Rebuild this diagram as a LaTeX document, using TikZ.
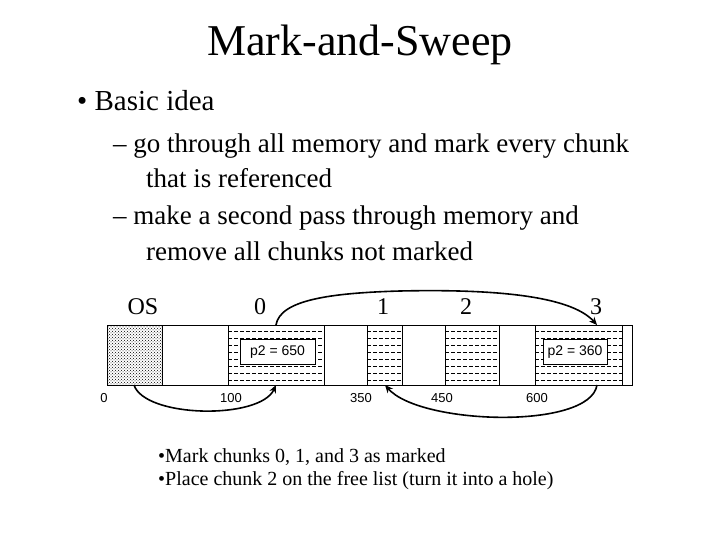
\documentclass[tikz,border=0pt]{standalone}
\usepackage{fontspec}
\setmainfont{Liberation Serif}
\newfontfamily\sansf{Liberation Sans}
\usetikzlibrary{patterns,arrows.meta}
\begin{document}
\begin{tikzpicture}[x=1pt,y=-1pt,
  hd/.style={font=\fontsize{29}{30}\selectfont,anchor=west,inner sep=0},
  sb/.style={font=\fontsize{27}{28}\selectfont,anchor=west,inner sep=0},
  lab/.style={font=\fontsize{24}{26}\selectfont,inner sep=0},
  num/.style={font=\sansf\fontsize{13}{15}\selectfont,inner sep=0},
  pbox/.style={draw,fill=white,font=\sansf\fontsize{14}{16}\selectfont,inner sep=0,minimum height=25pt},
  chunk/.style={draw},
  arr/.style={line width=1.6pt,-{Stealth[length=8pt,width=7pt]}}]
\useasboundingbox (0,0) rectangle (720,540);
\node[font=\fontsize{44}{46}\selectfont] (title) at (360,45) {Mark-and-Sweep};
\node[hd] (b1) at (77,101) {\textbullet\ Basic idea};
\node[sb] (s1) at (113,146) {– go through all memory and mark every chunk};
\node[sb] (s1b) at (146,178) {that is referenced};
\node[sb] (s2) at (113,218) {– make a second pass through memory and};
\node[sb] (s2b) at (146,251) {remove all chunks not marked};
% memory
\draw (107,325) rectangle (632,385);
\node[chunk,pattern=crosshatch dots,minimum width=55pt,minimum height=60pt,inner sep=0] (os) at (134.5,355) {};
\foreach \a/\b/\n in {228/324/c0,367/402/c1,445/499/c2,535/622/c3}{
  \node[chunk,minimum width={\b-\a},minimum height=60pt,inner sep=0] (\n) at ({(\a+\b)/2},355) {};
  \foreach \yy in {331,338,...,382}{
    \draw[dash pattern=on 4pt off 2pt,line width=0.4pt] (\a,\yy) -- (\b,\yy);
  }
}
\node[pbox,minimum width=75pt] (p0) at (277.5,352) {p2 = 650};
\node[pbox,minimum width=64pt] (p3) at (575,352) {p2 = 360};
\node[lab] (lOS) at (143,307) {OS};
\node[lab] (l0) at (260,307) {0};
\node[lab] (l1) at (383,307) {1};
\node[lab] (l2) at (466,307) {2};
\node[lab] (l3) at (596,307) {3};
\node[num] (n0) at (104,398) {0};
\node[num] (n100) at (231,398) {100};
\node[num] (n350) at (361,398) {350};
\node[num] (n450) at (442,398) {450};
\node[num] (n600) at (537,398) {600};
\coordinate (t0) at (276,325);
\coordinate (t3) at (597,325);
\coordinate (bos) at (134,385);
\coordinate (b0) at (276,385);
\coordinate (b3) at (597,385);
\coordinate (b1) at (385,385);
\draw[arr] (t0) .. controls (280,300) and (330,293) .. (400,291) .. controls (490,289) and (570,295) .. (t3);
\draw[arr] (bos) .. controls (145,418) and (260,420) .. (b0);
\draw[arr] (b3) .. controls (590,430) and (420,425) .. (b1);
\node[font=\fontsize{20}{22}\selectfont,anchor=west,inner sep=0] (m1) at (158,457) {\textbullet Mark chunks 0, 1, and 3 as marked};
\node[font=\fontsize{20}{22}\selectfont,anchor=west,inner sep=0] (m2) at (158,481) {\textbullet Place chunk 2 on the free list (turn it into a hole)};
\end{tikzpicture}
\end{document}
